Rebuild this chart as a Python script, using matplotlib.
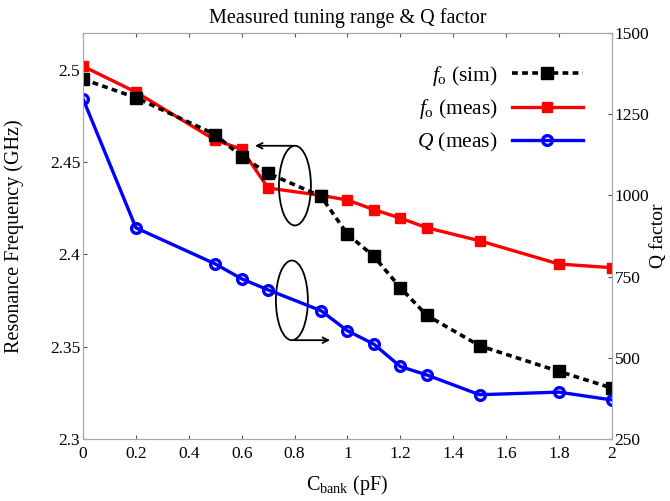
import numpy as np
import matplotlib.pyplot as plt
from matplotlib.patches import Ellipse

plt.rcParams['font.family'] = ['Liberation Serif', 'DejaVu Serif']
plt.rcParams['mathtext.fontset'] = 'custom'
plt.rcParams['mathtext.rm'] = 'Liberation Serif'
plt.rcParams['mathtext.it'] = 'Liberation Serif:italic'

# data
c_bank = [0, 0.2, 0.5, 0.6, 0.7, 0.9, 1.0, 1.1, 1.2, 1.3, 1.5, 1.8, 2.0]
f_sim = [2.495, 2.485, 2.465, 2.453, 2.444, 2.4315, 2.411, 2.399, 2.382, 2.367, 2.3505, 2.3366, 2.3276]
f_meas = [2.502, 2.488, 2.462, 2.457, 2.436, 2.432, 2.4295, 2.4243, 2.4197, 2.4145, 2.4074, 2.3948, 2.3928]
q_meas = [1297, 900, 789, 743, 709, 645, 583, 542, 473, 447, 386, 394, 370]

xticks = [0, 0.2, 0.4, 0.6, 0.8, 1, 1.2, 1.4, 1.6, 1.8, 2]
xlabels = ['0', '0.2', '0.4', '0.6', '0.8', '1', '1.2', '1.4', '1.6', '1.8', '2']
yticks = [2.3, 2.35, 2.4, 2.45, 2.5]
ylabels = ['2.3', '2.35', '2.4', '2.45', '2.5']
qticks = [250, 500, 750, 1000, 1250, 1500]

fig = plt.figure(figsize=(6.7, 5.01), dpi=100)
ax = fig.add_axes([0.124, 0.124, 0.789, 0.81])
ax2 = ax.twinx()

l1, = ax.plot(c_bank, f_sim, color='black', ls=(0, (1.6, 1.2)), lw=2.6,
              marker='s', ms=9, zorder=4, label='$f_{\\rm o}$ (sim)')
l2, = ax.plot(c_bank, f_meas, color='red', lw=2.4, marker='s', ms=7,
              zorder=3, label='$f_{\\rm o}$ (meas)')
l3, = ax2.plot(c_bank, q_meas, color='blue', lw=2.4, marker='o', ms=7,
               mfc='none', mew=2.4, label='$Q$ (meas)')

ax.set_xlim(0, 2)
ax.set_ylim(2.3, 2.52)
ax2.set_ylim(250, 1500)
ax.set_xticks(xticks)
ax.set_xticklabels(xlabels)
ax.set_yticks(yticks)
ax.set_yticklabels(ylabels)
ax2.set_yticks(qticks)

for a in (ax, ax2):
    for s in a.spines.values():
        s.set_color('#a8a8a8')
ax.tick_params(direction='in', top=True, labelsize=12.5, length=3, color='#555555')
ax.tick_params(axis='x', pad=5)
ax.tick_params(axis='y', pad=2)
ax2.tick_params(direction='in', labelsize=12.5, length=3, color='#555555', pad=2)

ax.set_title('Measured tuning range & Q factor', fontsize=14.5, pad=7)
ax.set_xlabel('C$_{\\rm bank}$ (pF)', fontsize=14.5, labelpad=8)
ax.set_ylabel('Resonance Frequency (GHz)', fontsize=14.5)
ax.yaxis.set_label_coords(-0.112, 0.5)
ax2.set_ylabel('Q factor', fontsize=14)
ax2.yaxis.set_label_coords(1.072, 0.5)

# ellipses and arrows pointing to their axis
ax.add_patch(Ellipse((0.8015, 2.4373), 0.121, 0.0432, fill=False, lw=1.3, zorder=5))
ax.annotate('', xy=(0.64, 2.4589), xytext=(0.806, 2.4589),
            arrowprops=dict(arrowstyle='->', lw=1.3, color='black'))
ax.add_patch(Ellipse((0.79, 2.3751), 0.121, 0.0432, fill=False, lw=1.3, zorder=5))
ax.annotate('', xy=(0.945, 2.3535), xytext=(0.79, 2.3535),
            arrowprops=dict(arrowstyle='->', lw=1.3, color='black'))

ax2.legend(handles=[l1, l2, l3], loc='upper right', markerfirst=False,
           frameon=False, fontsize=15.5, handlelength=3.3, handletextpad=0.65,
           bbox_to_anchor=(0.945, 0.925), borderaxespad=0, borderpad=0,
           labelspacing=0.45)

plt.savefig('out.png', dpi=100)
